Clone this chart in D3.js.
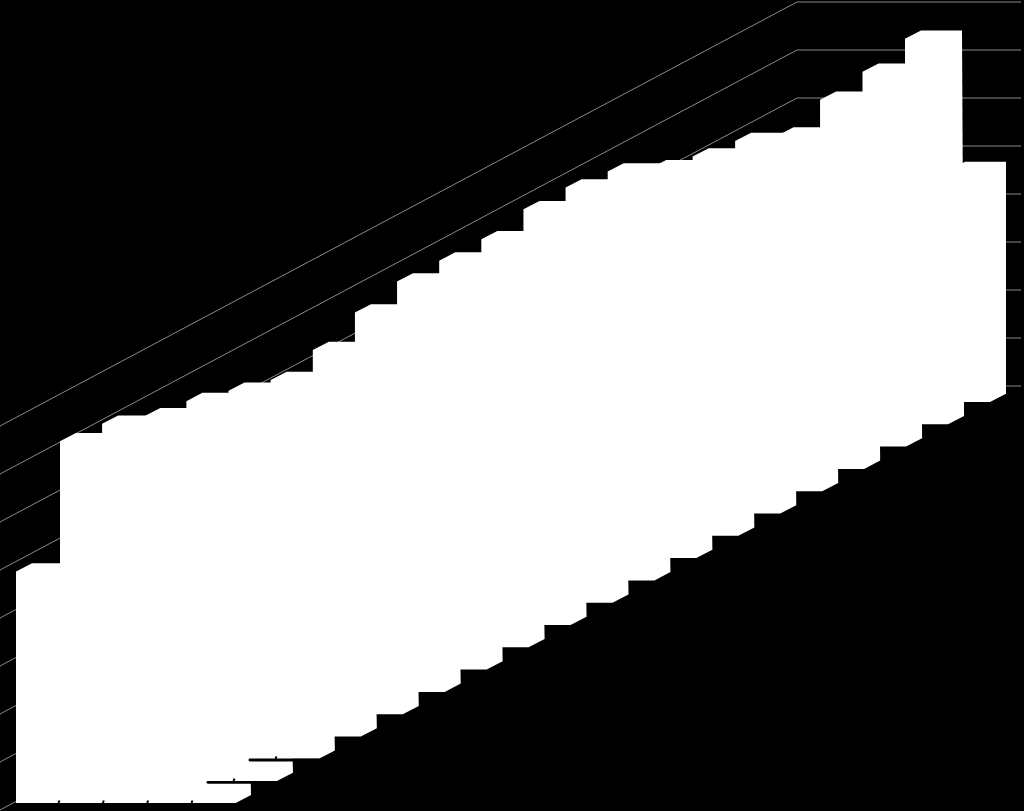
<!DOCTYPE html>
<html>
<head>
<meta charset="utf-8">
<style>html,body{margin:0;padding:0;background:#000;overflow:hidden}svg{display:block}</style>
<script src="https://cdn.jsdelivr.net/npm/d3@7/dist/d3.min.js"></script>
</head>
<body>
<svg id="chart" width="1024" height="811"></svg>
<script>
const values = [669,894,884,853,838,813,789,805,837,855,852,850,866,865,852,812,790,776,741,769,781,803,483];
const gridTicks = [0,100,200,300,400,500,600,700,800];
const tickedCategories = [1,2,3,4,5,6];
const floorLineCategories = [5,6];

const W = 1024, H = 811;
const svg = d3.select("#chart");
const idx = values.map((_, i) => i);

const xLeft = d3.scaleLinear().domain([0,1,14,21,22]).range([16,60,607.7,905,949]);
const xRight = d3.scaleLinear().domain([4,22]).range([235,990]);
const xTick = d3.scaleLinear().domain([1,4,6]).range([59,192,276]);
const yBase = d3.scaleLinear().domain([0,22]).range([892.6,402]);
const yVal = d3.scaleLinear().domain([0,800]).range([386,2]);
const depthX = 16, depthY = 8.3, topWidth = 41;
const floorY = 803;
const unit = yVal(0) - yVal(1);

svg.append("rect").attr("width",W).attr("height",H).attr("fill","#000");

svg.append("defs").append("clipPath").attr("id","floor").append("rect")
  .attr("x",0).attr("y",0).attr("width",W).attr("height",floorY);

const wallLeft = 797, wallRight = 1021, slope = 424/797;
const grid = svg.append("g").attr("stroke","#8a8a8a").attr("stroke-width",1).attr("fill","none");
grid.selectAll("path").data(gridTicks).join("path")
  .attr("d", d => d3.line()([[0,yVal(d)+wallLeft*slope],[wallLeft,yVal(d)],[wallRight,yVal(d)]]));

const bars = svg.append("g").attr("clip-path","url(#floor)").attr("fill","#fff");
bars.selectAll("path").data(idx.slice().reverse()).join("path")
  .attr("d", i => {
    const l = xLeft(i), r = xRight(i), b = yBase(i), t = b - values[i]*unit;
    return d3.line()([[l,b],[r,b],[r+depthX,b-depthY],[l+topWidth+depthX,t-depthY],[l+depthX,t-depthY],[l,t]]) + "Z";
  });

const marks = svg.append("g").attr("stroke","#000").attr("fill","none");
marks.selectAll("line.edge").data(floorLineCategories).join("line").attr("class","edge")
  .attr("x1", i => xRight(i)-69).attr("x2", i => xRight(i))
  .attr("y1", i => yBase(i)+1.2).attr("y2", i => yBase(i)+1.2)
  .attr("stroke-width",2.8).attr("stroke-linecap","round");
marks.selectAll("line.tick").data(tickedCategories).join("line").attr("class","tick")
  .attr("x1", i => xTick(i)-0.5).attr("x2", i => xTick(i)+0.5)
  .attr("y1", i => Math.min(yBase(i),floorY)).attr("y2", i => Math.min(yBase(i),floorY)-2.5)
  .attr("stroke-width",2);
</script>
</body>
</html>
